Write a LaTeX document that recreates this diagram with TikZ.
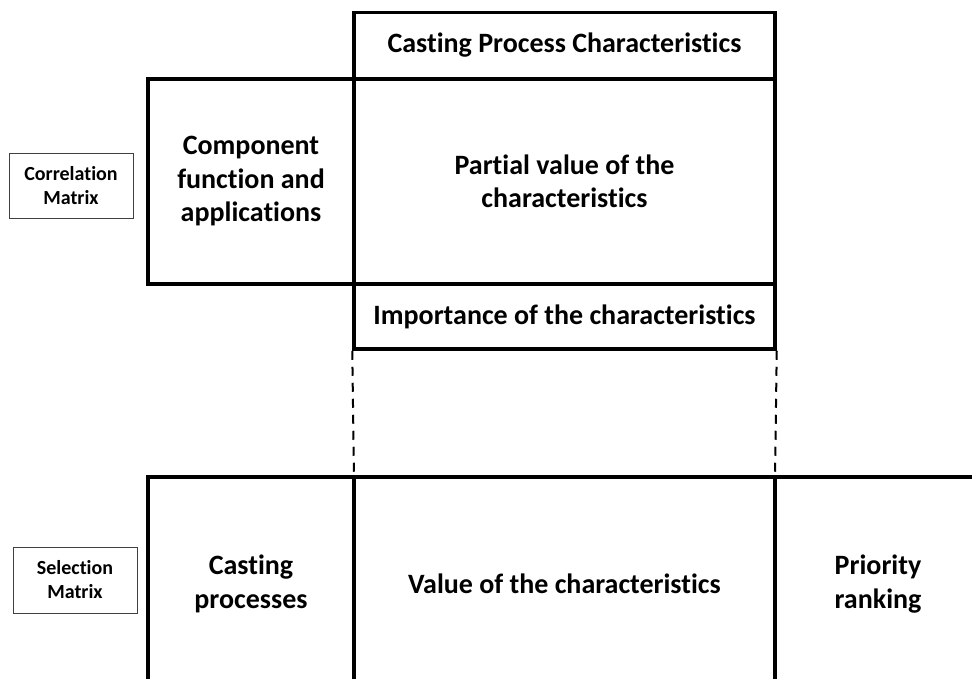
\documentclass[tikz,border=0pt]{standalone}
\usepackage{fontspec}
\setmainfont{Carlito}[RawFeature={-liga}]
\begin{document}
\begin{tikzpicture}[x=1pt,y=-1pt,
  thick line/.style={line width=3.5pt, line cap=rect},
  cell/.style={draw, line width=3.5pt, inner sep=0pt, font=\bfseries\fontsize{28}{33.5}\selectfont, align=center},
  txt/.style={inner sep=0pt, font=\bfseries\fontsize{28}{33.5}\selectfont, align=center},
  lbl/.style={draw=black!75, line width=0.9pt, inner sep=0pt, font=\bfseries\fontsize{20}{24}\selectfont, align=center},
  dash line/.style={line width=2pt, dash pattern=on 9pt off 7pt}]
\useasboundingbox (0,0) rectangle (972,678);
% upper matrix
\node[cell, minimum width=421pt, minimum height=66pt] (cpc) at (564.5,45.5) {Casting Process Characteristics};
\node[cell, minimum width=206pt, minimum height=205pt] (comp) at (251,181.5) {Component\\function and\\applications};
\node[cell, minimum width=421pt, minimum height=205pt] (partial) at (564.5,181.5) {Partial value of the\\characteristics};
\node[cell, minimum width=421pt, minimum height=65pt] (imp) at (564.5,316.5) {Importance of the characteristics};
% labels
\node[lbl, minimum width=124pt, minimum height=65pt] (corr) at (71,185.5) {Correlation\\Matrix};
\node[lbl, minimum width=124pt, minimum height=66pt] (sel) at (75,580) {Selection\\Matrix};
% lower matrix
\coordinate (bl) at (148,477);
\coordinate (br) at (972,477);
\coordinate (m1) at (354,477);
\coordinate (m2) at (775,477);
\coordinate (b0) at (148,680);
\coordinate (b1) at (354,680);
\coordinate (b2) at (775,680);
\draw[thick line] (bl) -- (br);
\draw[thick line] (bl) -- (b0);
\draw[thick line] (m1) -- (b1);
\draw[line width=4.5pt] (m2) -- (b2);
\draw[dash line] (imp.south west) -- (m1);
\draw[dash line] (imp.south east) -- (m2);
\node[txt] (cast) at (251,584) {Casting\\processes};
\node[txt] (val) at (564.5,584) {Value of the characteristics};
\node[txt] (prio) at (878,584) {Priority\\ranking};
\end{tikzpicture}
\end{document}
